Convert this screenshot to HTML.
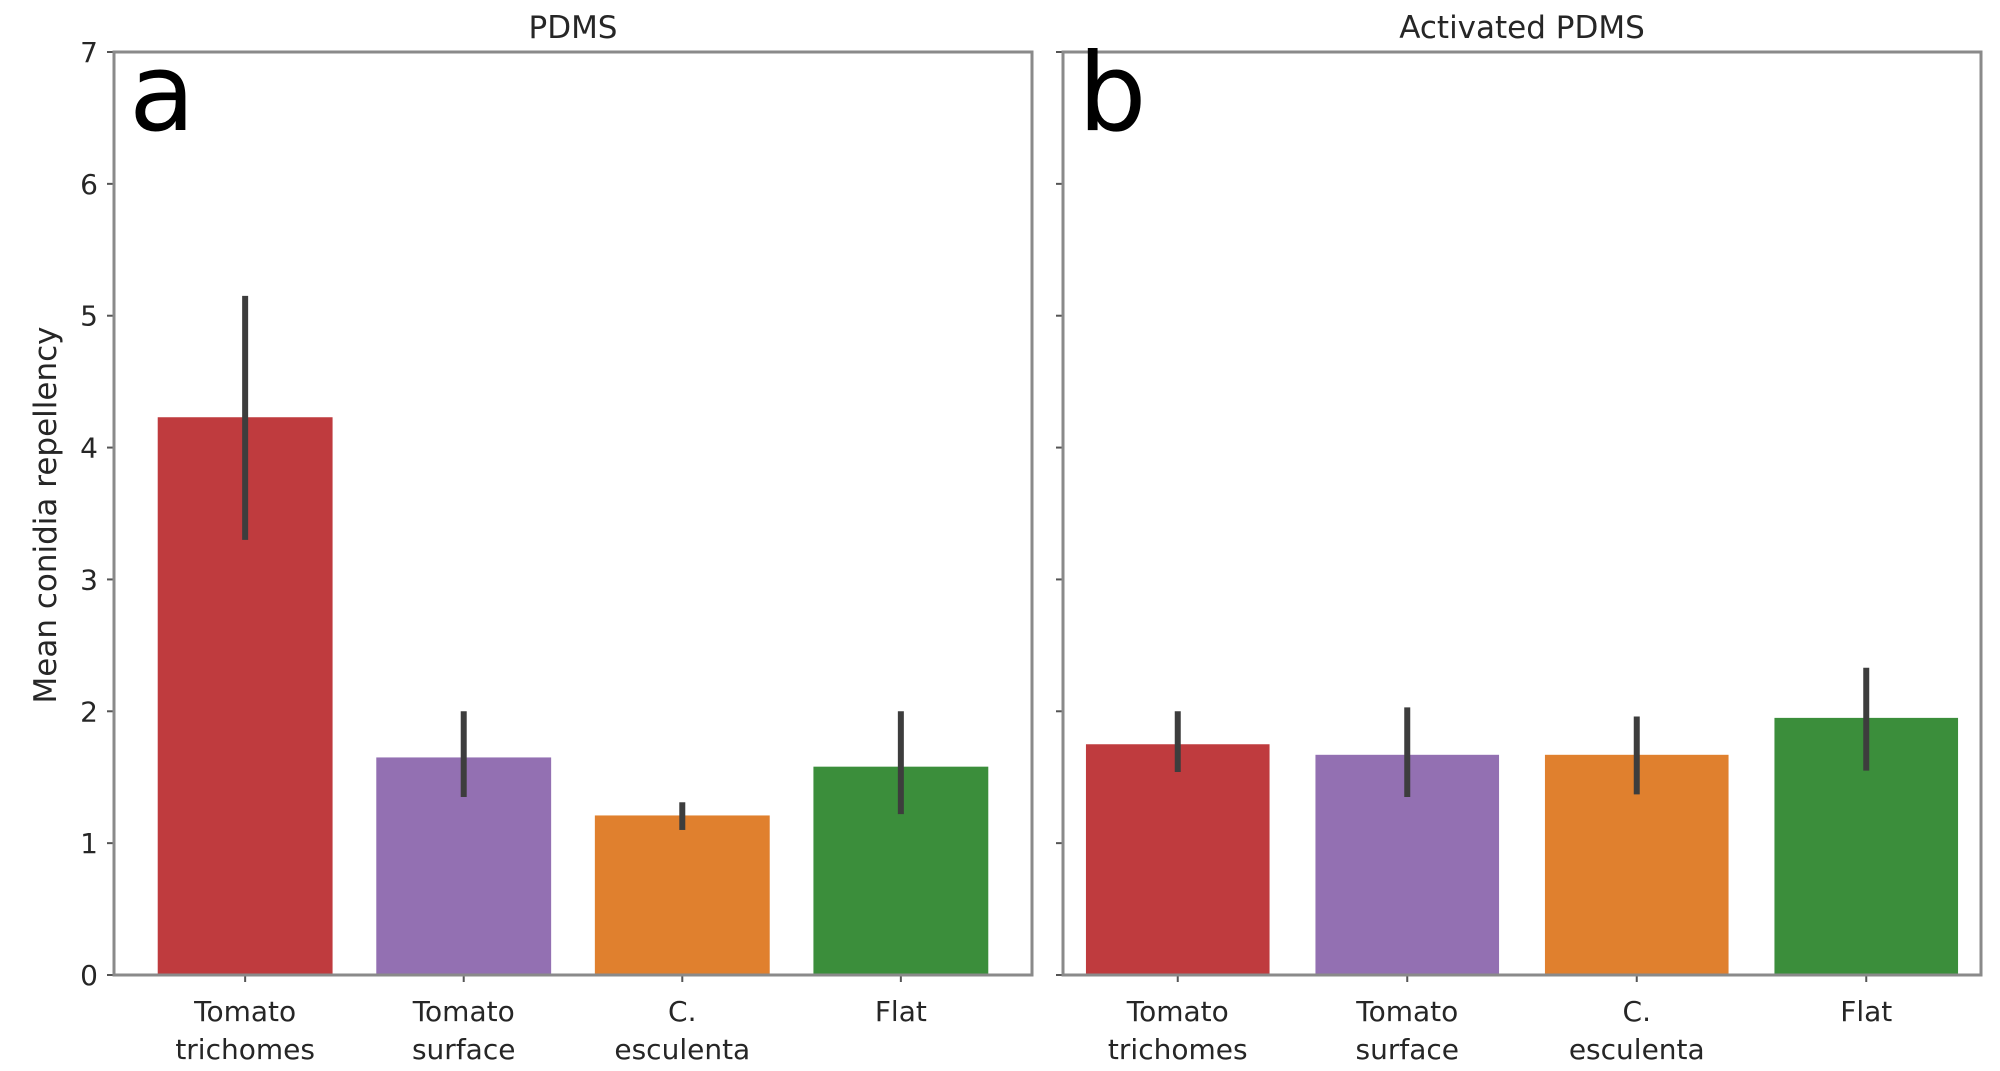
<!DOCTYPE html>
<html><head><meta charset="utf-8"><style>body{margin:0;background:#fff}svg{display:block}</style></head>
<body>
<svg id="chart" width="2000" height="1071" xmlns="http://www.w3.org/2000/svg" font-family="'DejaVu Sans','Liberation Sans',sans-serif"></svg>
<script>
const categories = ["Tomato|trichomes","Tomato|surface","C.|esculenta","Flat"];
const colors = ["#bf3b3e","#9370b2","#e0802e","#3b8e3b"];
const valuesA = [4.23,1.65,1.21,1.58];
const errLowA = [3.30,1.35,1.10,1.22];
const errHighA = [5.15,2.00,1.31,2.00];
const valuesB = [1.75,1.67,1.67,1.95];
const errLowB = [1.54,1.35,1.37,1.55];
const errHighB = [2.00,2.03,1.96,2.33];
const yTicks = [0,1,2,3,4,5,6,7];

const svgEl = document.getElementById('chart');
const NS = 'http://www.w3.org/2000/svg';
function mk(tag, attrs, parent){const e=document.createElementNS(NS,tag);for(const k in attrs)e.setAttribute(k,attrs[k]);(parent||svgEl).appendChild(e);return e;}
const plotTop=52, plotBottom=975, yMax=7;
function yScale(v){return plotBottom-(plotBottom-plotTop)*v/yMax;}

function panel(key,left,right,xmin,xmax,vals,lo,hi,title,letter,showLabels){
  const g=mk('g',{});
  
  
  const xs=v=>left+(right-left)*(v-xmin)/(xmax-xmin);
  vals.forEach((v,i)=>{
    const w=(xs(0.4)-xs(-0.4));
    const r=mk('rect',{x:xs(i)-w/2,y:yScale(v),width:w,height:yScale(0)-yScale(v),fill:colors[i]},g);
    
    
    const l=mk('line',{x1:xs(i),x2:xs(i),y1:yScale(lo[i]),y2:yScale(hi[i]),stroke:'#3d3d3d','stroke-width':6},g);
    
    
    mk('line',{x1:xs(i),x2:xs(i),y1:plotBottom,y2:plotBottom+7,stroke:'#555','stroke-width':2},g);
    const parts=categories[i].split('|');
    const t=mk('text',{x:xs(i),y:plotBottom+46,'text-anchor':'middle','font-size':28,fill:'#262626'},g);
    
    
    t.textContent=parts[0];
    const t2=mk('text',{x:xs(i),y:plotBottom+84,'text-anchor':'middle','font-size':28,fill:'#262626'},g);
    
    
    t2.textContent=parts[1];
  });
  yTicks.forEach(v=>{
    mk('line',{x1:left-7,x2:left,y1:yScale(v),y2:yScale(v),stroke:'#555','stroke-width':2},g);
    if(showLabels){
      const t=mk('text',{x:left-16,y:yScale(v)+10,'text-anchor':'end','font-size':28,fill:'#262626'},g);
      
      
      t.textContent=v;
    }
  });
  const fr=mk('rect',{x:left,y:plotTop,width:right-left,height:plotBottom-plotTop,fill:'none',stroke:'#8a8a8a','stroke-width':3},g);
  
  
  const tt=mk('text',{x:(left+right)/2,y:38,'text-anchor':'middle','font-size':31,fill:'#262626'},g);
  
  
  tt.textContent=title;
  const lt=mk('text',{x:left+15,y:130,'font-size':108,fill:'#000'},g);
  
  
  lt.textContent=letter;
}
panel('a',114,1032,-0.6,3.6,valuesA,errLowA,errHighA,'PDMS','a',true);
panel('b',1063,1981,-0.5,3.5,valuesB,errLowB,errHighB,'Activated PDMS','b',false);
const yt=mk('text',{x:0,y:0,'text-anchor':'middle','font-size':31,fill:'#262626',transform:'translate(56,515) rotate(-90)'});


yt.textContent='Mean conidia repellency';
</script>
</body></html>
